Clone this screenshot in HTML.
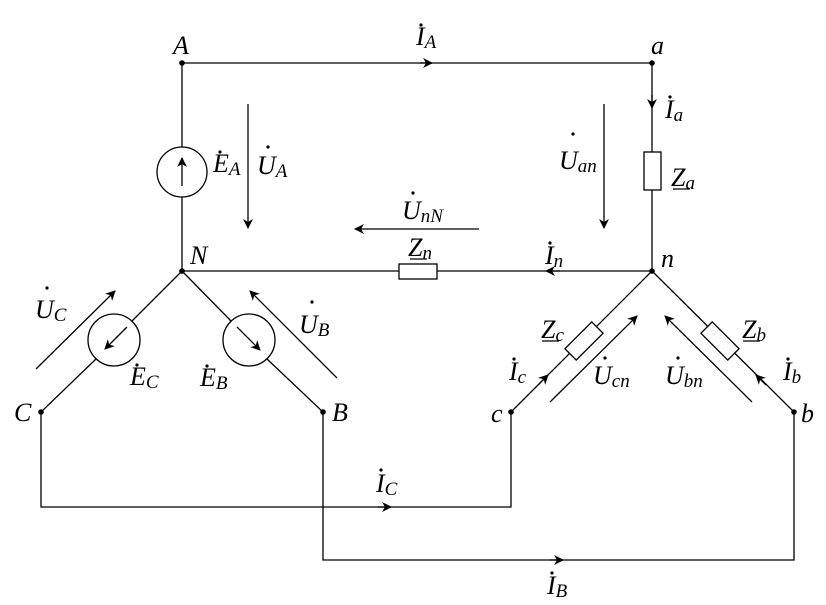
<!DOCTYPE html>
<html><head><meta charset="utf-8"><style>
html,body{margin:0;padding:0;background:#fff}
svg{display:block}
text{font-family:"Liberation Serif",serif;font-style:italic;fill:#000}
.s{font-size:26px}
.b{font-size:19px}
</style></head><body>
<svg width="826" height="605" viewBox="0 0 826 605" xmlns="http://www.w3.org/2000/svg">
<defs>
<marker id="m" markerWidth="12" markerHeight="10" refX="9" refY="5" orient="auto" markerUnits="userSpaceOnUse">
<path d="M0,0 L10,5 L0,10 L3,5z" fill="#000"/></marker>
</defs>
<g stroke="#000" stroke-width="1.3" fill="none">
<path d="M182,63 H652 V152 M652,190 V271 H437 M399,271 H182 V197 M182,147 V63"/>
<path d="M182,271 L132,321 M96,359 L41,412 V507 H511 V412"/>
<path d="M182,271 L231,321 M267,359 L323,412 V560 H794 V412"/>
<path d="M652,271 L511,412 M652,271 L794,412"/>
<rect x="644" y="152" width="17" height="38" fill="#fff"/>
<rect x="399" y="264" width="38" height="15" fill="#fff"/>
<rect x="-19" y="-8" width="38" height="16" fill="#fff" transform="translate(584,341) rotate(-45)"/>
<rect x="-19" y="-8" width="38" height="16" fill="#fff" transform="translate(720,341) rotate(45)"/>
<circle cx="182" cy="172" r="25" fill="#fff"/>
<circle cx="114" cy="340" r="26" fill="#fff"/>
<circle cx="249" cy="340" r="26" fill="#fff"/>
<path d="M182,186 V158" marker-end="url(#m)"/>
<path d="M127,327 L105,349" marker-end="url(#m)"/>
<path d="M237,327 L260,350" marker-end="url(#m)"/>
<path d="M248,104 V228" marker-end="url(#m)"/>
<path d="M604,104 V228" marker-end="url(#m)"/>
<path d="M479,229 H355" marker-end="url(#m)"/>
<path d="M36,369 L115,291" marker-end="url(#m)"/>
<path d="M337,378 L250,291" marker-end="url(#m)"/>
<path d="M550,402 L637,316" marker-end="url(#m)"/>
<path d="M752,402 L665,316" marker-end="url(#m)"/>
<path d="M420,63 H432" marker-end="url(#m)"/>
<path d="M652,95 V108" marker-end="url(#m)"/>
<path d="M560,271 H546" marker-end="url(#m)"/>
<path d="M538,385 L548,375" marker-end="url(#m)"/>
<path d="M766,385 L756,375" marker-end="url(#m)"/>
<path d="M378,507 H391" marker-end="url(#m)"/>
<path d="M550,560 H563" marker-end="url(#m)"/>
<!-- Z underlines -->
<path d="M673,189 H690 M410,259 H427 M542,341 H559 M743,341 H760"/>
</g>
<g fill="#000">
<circle cx="182" cy="63" r="2.8"/><circle cx="652" cy="63" r="2.8"/>
<circle cx="182" cy="271" r="2.8"/><circle cx="652" cy="271" r="2.8"/>
<circle cx="41" cy="412" r="2.8"/><circle cx="323" cy="412" r="2.8"/>
<circle cx="511" cy="412" r="2.8"/><circle cx="794" cy="412" r="2.8"/>
<circle cx="421" cy="25" r="1.6"/><circle cx="670" cy="97" r="1.6"/>
<circle cx="220" cy="152" r="1.6"/><circle cx="268" cy="147" r="1.6"/>
<circle cx="573" cy="134" r="1.6"/><circle cx="413" cy="193" r="1.6"/>
<circle cx="550" cy="243" r="1.6"/><circle cx="47" cy="288" r="1.6"/>
<circle cx="312" cy="302" r="1.6"/><circle cx="137" cy="365" r="1.6"/>
<circle cx="207" cy="366" r="1.6"/><circle cx="514" cy="359" r="1.6"/>
<circle cx="605" cy="358" r="1.6"/><circle cx="678" cy="358" r="1.6"/>
<circle cx="788" cy="359" r="1.6"/><circle cx="381" cy="470" r="1.6"/>
<circle cx="552" cy="573" r="1.6"/>
</g>
<text class="s" x="173" y="54">A</text>
<text class="s" x="651" y="54">a</text>
<text class="s" x="416" y="45">I<tspan class="b" dy="3">A</tspan></text>
<text class="s" x="665" y="118">I<tspan class="b" dy="3">a</tspan></text>
<text class="s" x="213" y="172">E<tspan class="b" dy="3">A</tspan></text>
<text class="s" x="257" y="174">U<tspan class="b" dy="3">A</tspan></text>
<text class="s" x="559" y="169">U<tspan class="b" dy="3">an</tspan></text>
<text class="s" x="671" y="186">Z<tspan class="b" dy="3">a</tspan></text>
<text class="s" x="402" y="219">U<tspan class="b" dy="3">nN</tspan></text>
<text class="s" x="408" y="256">Z<tspan class="b" dy="3">n</tspan></text>
<text class="s" x="545" y="264">I<tspan class="b" dy="3">n</tspan></text>
<text class="s" x="190" y="264">N</text>
<text class="s" x="661" y="267">n</text>
<text class="s" x="35" y="318">U<tspan class="b" dy="3">C</tspan></text>
<text class="s" x="299" y="333">U<tspan class="b" dy="3">B</tspan></text>
<text class="s" x="130" y="385">E<tspan class="b" dy="3">C</tspan></text>
<text class="s" x="200" y="386">E<tspan class="b" dy="3">B</tspan></text>
<text class="s" x="14" y="421">C</text>
<text class="s" x="332" y="421">B</text>
<text class="s" x="491" y="422">c</text>
<text class="s" x="801" y="422">b</text>
<text class="s" x="541" y="338">Z<tspan class="b" dy="3">c</tspan></text>
<text class="s" x="742" y="338">Z<tspan class="b" dy="3">b</tspan></text>
<text class="s" x="509" y="380">I<tspan class="b" dy="3">c</tspan></text>
<text class="s" x="593" y="384">U<tspan class="b" dy="3">cn</tspan></text>
<text class="s" x="665" y="384">U<tspan class="b" dy="3">bn</tspan></text>
<text class="s" x="783" y="380">I<tspan class="b" dy="3">b</tspan></text>
<text class="s" x="376" y="492">I<tspan class="b" dy="3">C</tspan></text>
<text class="s" x="547" y="594">I<tspan class="b" dy="3">B</tspan></text>
</svg>
</body></html>
